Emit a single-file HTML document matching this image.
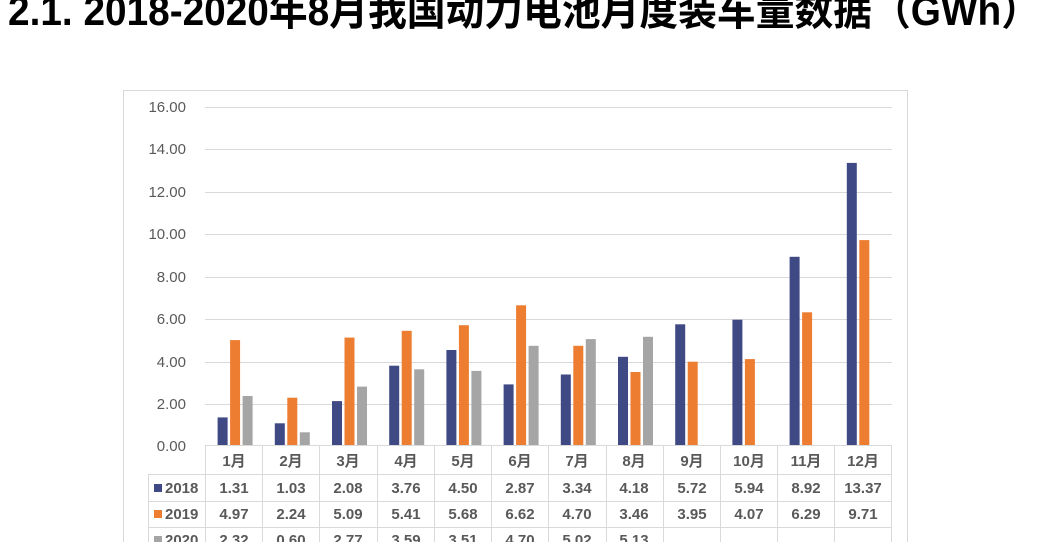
<!DOCTYPE html>
<html><head><meta charset="utf-8"><style>
html,body{margin:0;padding:0;background:#fff;width:1046px;height:542px;overflow:hidden}
svg{display:block}
.t{font-family:"Liberation Sans","Noto Sans CJK SC",sans-serif;font-size:15px;fill:#595959}
.b{font-weight:bold;text-anchor:middle}
</style></head><body>
<svg width="1046" height="542" viewBox="0 0 1046 542" xmlns="http://www.w3.org/2000/svg">
<text x="8" y="25" textLength="1032" lengthAdjust="spacingAndGlyphs" style="font-family:'Liberation Sans','Noto Sans CJK SC',sans-serif;font-weight:bold;font-size:42px;fill:#000">2.1. 2018-2020年8月我国动力电池月度装车量数据（GWh）</text>
<rect x="123.5" y="90.5" width="784" height="470" fill="none" stroke="#d9d9d9"/>
<g stroke="#d9d9d9" stroke-width="1">
<line x1="205" y1="107.5" x2="892" y2="107.5"/><line x1="205" y1="149.5" x2="892" y2="149.5"/>
<line x1="205" y1="192.5" x2="892" y2="192.5"/><line x1="205" y1="234.5" x2="892" y2="234.5"/>
<line x1="205" y1="277.5" x2="892" y2="277.5"/><line x1="205" y1="319.5" x2="892" y2="319.5"/>
<line x1="205" y1="362.5" x2="892" y2="362.5"/><line x1="205" y1="404.5" x2="892" y2="404.5"/>
<line x1="205" y1="445.5" x2="892" y2="445.5"/>
<line x1="148" y1="474.5" x2="892" y2="474.5"/><line x1="148" y1="501.5" x2="892" y2="501.5"/><line x1="148" y1="527.5" x2="892" y2="527.5"/>
<line x1="148.5" y1="474" x2="148.5" y2="542"/>
<line x1="205.5" y1="445" x2="205.5" y2="542"/><line x1="262.5" y1="445" x2="262.5" y2="542"/>
<line x1="319.5" y1="445" x2="319.5" y2="542"/><line x1="377.5" y1="445" x2="377.5" y2="542"/>
<line x1="434.5" y1="445" x2="434.5" y2="542"/><line x1="491.5" y1="445" x2="491.5" y2="542"/>
<line x1="548.5" y1="445" x2="548.5" y2="542"/><line x1="606.5" y1="445" x2="606.5" y2="542"/>
<line x1="663.5" y1="445" x2="663.5" y2="542"/><line x1="720.5" y1="445" x2="720.5" y2="542"/>
<line x1="777.5" y1="445" x2="777.5" y2="542"/><line x1="834.5" y1="445" x2="834.5" y2="542"/>
<line x1="891.5" y1="445" x2="891.5" y2="542"/>
</g>
<g class="t" text-anchor="end">
<text x="186" y="112">16.00</text><text x="186" y="154">14.00</text><text x="186" y="197">12.00</text>
<text x="186" y="239">10.00</text><text x="186" y="282">8.00</text><text x="186" y="324">6.00</text>
<text x="186" y="367">4.00</text><text x="186" y="409">2.00</text><text x="186" y="451">0.00</text>
</g>
<g fill="#3f4a85">
<rect x="217.6" y="417.4" width="10" height="27.6"/><rect x="274.8" y="423.3" width="10" height="21.7"/>
<rect x="332" y="401.1" width="10" height="43.9"/><rect x="389.2" y="365.7" width="10" height="79.3"/>
<rect x="446.4" y="350" width="10" height="95"/><rect x="503.6" y="384.4" width="10" height="60.6"/>
<rect x="560.8" y="374.5" width="10" height="70.5"/><rect x="618" y="356.8" width="10" height="88.2"/>
<rect x="675.2" y="324.3" width="10" height="120.7"/><rect x="732.4" y="319.7" width="10" height="125.3"/>
<rect x="789.6" y="256.8" width="10" height="188.2"/><rect x="846.8" y="162.9" width="10" height="282.1"/>
</g>
<g fill="#ed7d31">
<rect x="230.1" y="340.1" width="10" height="104.9"/><rect x="287.3" y="397.7" width="10" height="47.3"/>
<rect x="344.5" y="337.6" width="10" height="107.4"/><rect x="401.7" y="330.8" width="10" height="114.2"/>
<rect x="458.9" y="325.2" width="10" height="119.8"/><rect x="516.1" y="305.3" width="10" height="139.7"/>
<rect x="573.3" y="345.8" width="10" height="99.2"/><rect x="630.5" y="372" width="10" height="73"/>
<rect x="687.7" y="361.7" width="10" height="83.3"/><rect x="744.9" y="359.1" width="10" height="85.9"/>
<rect x="802.1" y="312.3" width="10" height="132.7"/><rect x="859.3" y="240.1" width="10" height="204.9"/>
</g>
<g fill="#a5a5a5">
<rect x="242.6" y="396" width="10" height="49"/><rect x="299.8" y="432.3" width="10" height="12.7"/>
<rect x="357" y="386.6" width="10" height="58.4"/><rect x="414.2" y="369.3" width="10" height="75.7"/>
<rect x="471.4" y="370.9" width="10" height="74.1"/><rect x="528.6" y="345.8" width="10" height="99.2"/>
<rect x="585.8" y="339.1" width="10" height="105.9"/><rect x="643" y="336.8" width="10" height="108.2"/>
</g>
<g class="t b">
<text x="234" y="466">1月</text><text x="291" y="466">2月</text><text x="348" y="466">3月</text><text x="406" y="466">4月</text>
<text x="463" y="466">5月</text><text x="520" y="466">6月</text><text x="577" y="466">7月</text><text x="634" y="466">8月</text>
<text x="692" y="466">9月</text><text x="749" y="466">10月</text><text x="806" y="466">11月</text><text x="863" y="466">12月</text>
<text x="234" y="493">1.31</text><text x="291" y="493">1.03</text><text x="348" y="493">2.08</text><text x="406" y="493">3.76</text>
<text x="463" y="493">4.50</text><text x="520" y="493">2.87</text><text x="577" y="493">3.34</text><text x="634" y="493">4.18</text>
<text x="692" y="493">5.72</text><text x="749" y="493">5.94</text><text x="806" y="493">8.92</text><text x="863" y="493">13.37</text>
<text x="234" y="519">4.97</text><text x="291" y="519">2.24</text><text x="348" y="519">5.09</text><text x="406" y="519">5.41</text>
<text x="463" y="519">5.68</text><text x="520" y="519">6.62</text><text x="577" y="519">4.70</text><text x="634" y="519">3.46</text>
<text x="692" y="519">3.95</text><text x="749" y="519">4.07</text><text x="806" y="519">6.29</text><text x="863" y="519">9.71</text>
<text x="234" y="545">2.32</text><text x="291" y="545">0.60</text><text x="348" y="545">2.77</text><text x="406" y="545">3.59</text>
<text x="463" y="545">3.51</text><text x="520" y="545">4.70</text><text x="577" y="545">5.02</text><text x="634" y="545">5.13</text>
</g>
<rect x="154" y="484" width="8" height="8" fill="#3f4a85"/>
<rect x="154" y="510" width="8" height="8" fill="#ed7d31"/>
<rect x="154" y="536" width="8" height="8" fill="#a5a5a5"/>
<g class="t" font-weight="bold">
<text x="165" y="493">2018</text><text x="165" y="519">2019</text><text x="165" y="545">2020</text>
</g>
</svg>
</body></html>
